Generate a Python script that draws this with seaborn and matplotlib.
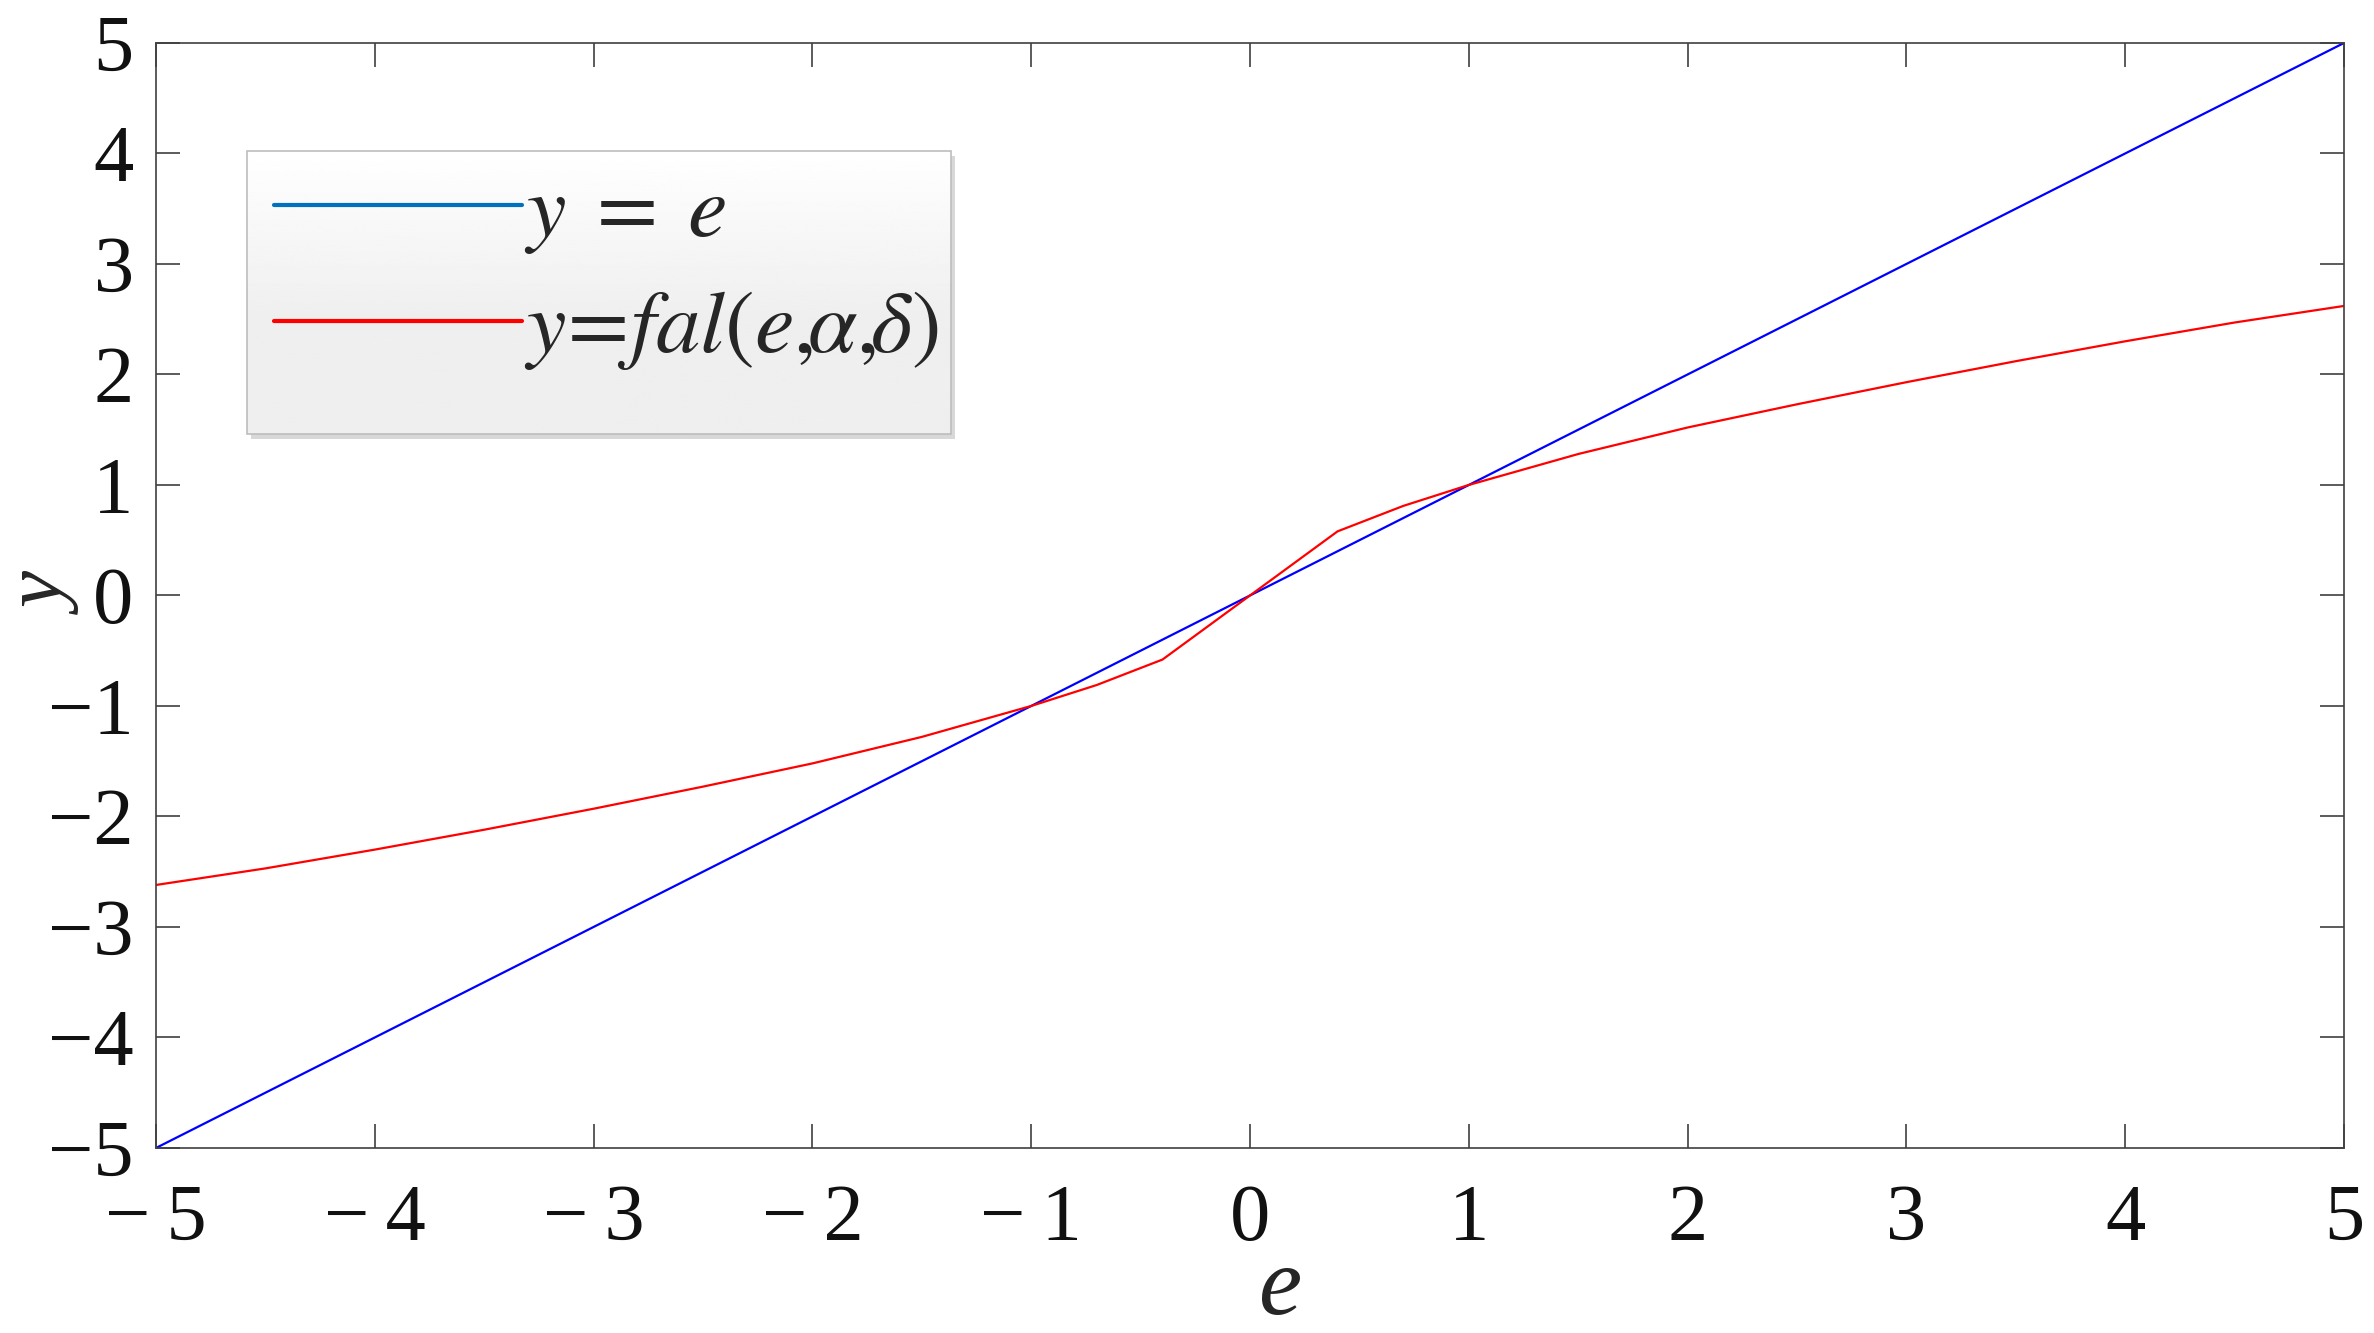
import matplotlib
matplotlib.use("Agg")
import matplotlib.pyplot as plt
from matplotlib.lines import Line2D
import numpy as np
import pandas as pd
import seaborn as sns

# values
e_lin = [-5.0, 5.0]
y_lin = [-5.0, 5.0]

e_fal = [-5.0, -4.5, -4.0, -3.5, -3.0, -2.5, -2.0, -1.5, -1.0, -0.7, -0.4, 0.0,
         0.4, 0.7, 1.0, 1.5, 2.0, 2.5, 3.0, 3.5, 4.0, 4.5, 5.0]
y_fal = [-2.62, -2.47, -2.30, -2.12, -1.93, -1.73, -1.52, -1.28, -1.00, -0.81, -0.58, 0.0,
         0.58, 0.81, 1.00, 1.28, 1.52, 1.73, 1.93, 2.12, 2.30, 2.47, 2.62]

x_ticks = [-5, -4, -3, -2, -1, 0, 1, 2, 3, 4, 5]
y_ticks = [-5, -4, -3, -2, -1, 0, 1, 2, 3, 4, 5]
x_ticklabels = ['\u2212\u20095', '\u2212\u20094', '\u2212\u20093', '\u2212\u20092', '\u2212\u20091',
                '0', '1', '2', '3', '4', '5']
y_ticklabels = ['\u22125', '\u22124', '\u22123', '\u22122', '\u22121', '0', '1', '2', '3', '4', '5']

legend_labels = [r'$y\;=\;e$', r'$y\!=\!fal\left(e,\!\!\alpha,\!\!\delta\right)$']

df = pd.concat([
    pd.DataFrame({'e': e_lin, 'y': y_lin, 'curve': 'lin'}),
    pd.DataFrame({'e': e_fal, 'y': y_fal, 'curve': 'fal'}),
])

sns.set_theme(style='ticks')
FONT = 'Liberation Serif'
plt.rcParams['font.family'] = FONT
plt.rcParams['mathtext.fontset'] = 'stix'

AX_COL = '#404040'

fig = plt.figure(figsize=(11.87, 6.665), dpi=200)
ax = fig.add_axes([0.0657, 0.1388, 0.9217, 0.8290])

sns.lineplot(data=df, x='e', y='y', hue='curve', palette={'lin': '#0000ff', 'fal': '#ff0000'},
             sort=False, estimator=None, legend=False, linewidth=0.8, ax=ax)

ax.set_xlim(-5, 5)
ax.set_ylim(-5, 5)
ax.set_xticks(x_ticks)
ax.set_xticklabels(x_ticklabels, family=FONT)
ax.set_yticks(y_ticks)
ax.set_yticklabels(y_ticklabels, family=FONT)

ax.tick_params(direction='in', length=8.5, width=0.6, colors=AX_COL, labelcolor='#111111',
               labelsize=29, top=True, right=True)
ax.tick_params(axis='x', pad=13)
ax.tick_params(axis='y', pad=8)
for s in ax.spines.values():
    s.set_visible(True)
    s.set_linewidth(0.6)
    s.set_color(AX_COL)

ax.set_xlabel('e', fontsize=35, fontstyle='italic', family=FONT)
ax.set_ylabel('y', fontsize=30, fontstyle='italic', family=FONT)
ax.xaxis.set_label_coords(0.514, -0.089)
ax.yaxis.set_label_coords(-0.032, 0.5)

# legend background gradient (white -> light grey)
lx0, lx1, ly0, ly1 = 0.0416, 0.3633, 0.646, 0.902
grad = np.concatenate([np.linspace(1.0, 0.935, 60), np.full(40, 0.935)]).reshape(-1, 1)
ax.imshow(grad, cmap='gray', vmin=0, vmax=1, extent=(lx0, lx1, ly0, ly1),
          transform=ax.transAxes, aspect='auto', zorder=3, origin='upper')
ax.add_patch(plt.Rectangle((lx0 + 0.002, ly0 - 0.004), lx1 - lx0, ly1 - ly0, transform=ax.transAxes,
                           facecolor='#d8d8d8', edgecolor='none', zorder=2.9))
ax.add_patch(plt.Rectangle((lx0, ly0), lx1 - lx0, ly1 - ly0, transform=ax.transAxes,
                           facecolor='none', edgecolor='#bdbdbd', linewidth=0.6, zorder=3.1))
ax.set_xlim(-5, 5)
ax.set_ylim(-5, 5)

handles = [Line2D([], [], color='#0072bd', linewidth=1.5),
           Line2D([], [], color='#ff0000', linewidth=1.5)]
leg = ax.legend(handles, legend_labels, loc='upper left', bbox_to_anchor=(0.0375, 0.914),
                frameon=False, fontsize=32, handlelength=2.79, handletextpad=0.03,
                labelspacing=0.37, borderaxespad=0)
leg.set_zorder(4)

fig.savefig('out.png', dpi=200)
